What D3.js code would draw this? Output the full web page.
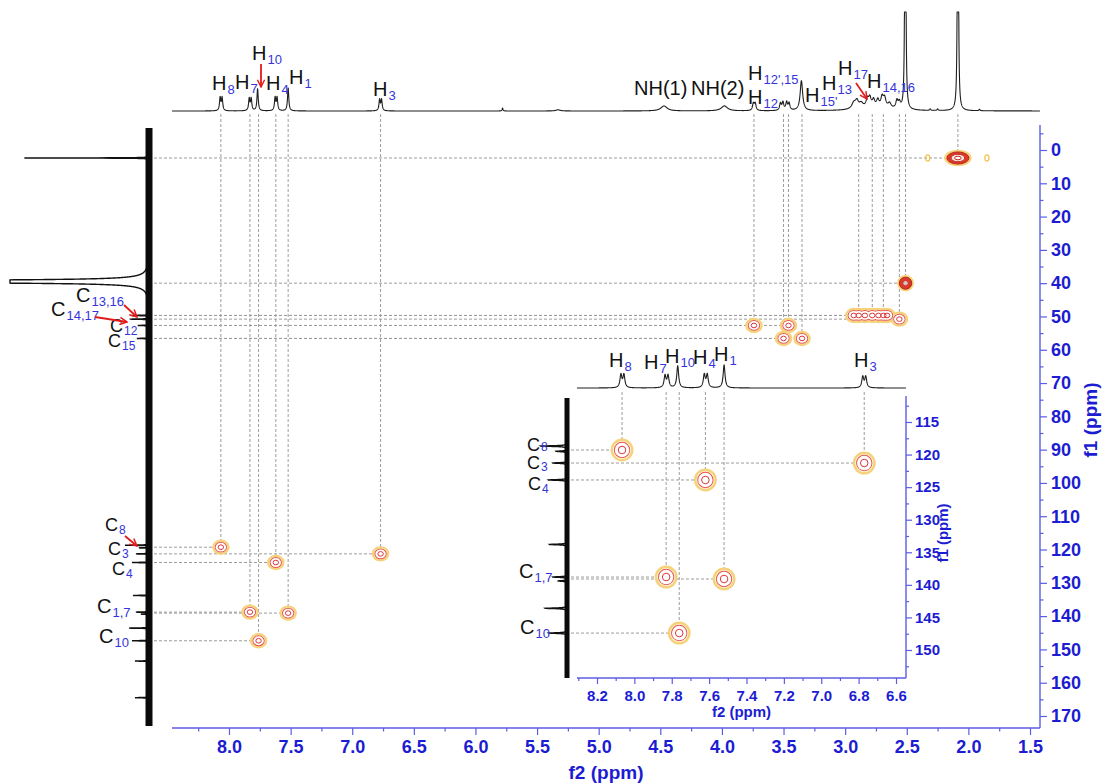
<!DOCTYPE html>
<html><head><meta charset="utf-8">
<script src="https://cdn.jsdelivr.net/npm/d3@7"></script>
<style>
body{margin:0;background:#fff}
svg{display:block;font-family:"Liberation Sans",Arial,sans-serif}
</style>
</head><body>
<svg id="c" width="1107" height="783"></svg>
<script>
// ---------------- data ----------------
// 1H projection: [shift ppm, intensity, half-width ppm]
const protonPeaks = [
  [8.072,13,0.006],[8.056,13,0.006],
  [7.836,12,0.006],[7.820,12,0.006],
  [7.768,22,0.006],
  [7.626,13,0.006],[7.610,13,0.006],
  [7.520,23,0.006],
  [6.778,11,0.006],[6.762,11,0.006],
  [5.78,3,0.004],[5.33,1.2,0.02],
  [4.47,5,0.03],[3.98,5,0.03],
  [3.745,7,0.008],[3.730,7,0.008],
  [3.525,7,0.008],[3.505,8,0.008],[3.475,8,0.008],[3.455,7,0.008],
  [3.355,30,0.012],
  [2.75,3,0.15],
  [2.93,6,0.02],[2.905,7,0.015],[2.87,5,0.02],[2.82,8,0.012],[2.80,9,0.012],
  [2.77,7,0.012],[2.735,7,0.012],[2.70,10,0.012],[2.68,9,0.012],[2.64,5,0.015],
  [2.58,8,0.01],[2.56,6,0.01],
  [2.512,900,0.0025],
  [2.31,1.5,0.005],[2.25,1.5,0.005],
  [2.085,900,0.0025],
  [1.91,1.5,0.005]
];

// 13C projection: [shift ppm, intensity, half-width ppm]
const carbonPeaks = [
  [2.4,125,0.04],
  [39.5,1000,0.2],
  [49.7,17,0.06],[50.8,19,0.06],[52.7,11,0.06],[56.6,12,0.06],
  [118.7,24,0.06],[119.5,10,0.06],[121.3,13,0.06],[123.9,17,0.06],
  [133.8,16,0.06],[138.8,13,0.06],[139.4,8,0.06],[143.6,20,0.06],
  [147.4,17,0.06],[153.5,14,0.06],[164.5,14,0.06]
];

// HSQC cross peaks, aromatic region: [1H ppm, 13C ppm]
const aromaticCross = [
  [8.066,119.3],[6.770,121.3],[7.620,123.9],
  [7.830,138.8],[7.520,139.1],[7.760,147.4]
];

// HSQC cross peaks, aliphatic region: [1H ppm, 13C ppm, level, guide]
// level: 0 weak, 1 normal, 2 strong, 3 very strong
const aliphaticCross = [
  [3.74,52.7,1,1],[3.46,52.7,1,1],[3.50,56.6,1,1],[3.35,56.6,1,1],
  [2.93,49.7,1,0],[2.89,49.7,1,1],[2.84,49.7,1,0],[2.78,49.7,1,1],
  [2.73,49.7,1,0],[2.69,49.7,1,1],[2.66,49.7,1,0],
  [2.56,50.8,1,1],
  [2.51,40.0,2,1],
  [2.085,2.4,3,1],
  [2.33,2.4,0,0],[1.85,2.4,0,0]
];

// axis ticks
const f2MainTicks = [8.0,7.5,7.0,6.5,6.0,5.5,5.0,4.5,4.0,3.5,3.0,2.5,2.0,1.5];
const f2MainMinor = [8.25,7.75,7.25,6.75,6.25,5.75,5.25,4.75,4.25,3.75,3.25,2.75,2.25,1.75];
const f1MainTicks = [0,10,20,30,40,50,60,70,80,90,100,110,120,130,140,150,160,170];
const f1MainMinor = [-5,5,15,25,35,45,55,65,75,85,95,105,115,125,135,145,155,165];
const f2InsetTicks = [8.2,8.0,7.8,7.6,7.4,7.2,7.0,6.8,6.6];
const f2InsetMinor = [8.3,8.1,7.9,7.7,7.5,7.3,7.1,6.9,6.7];
const f1InsetTicks = [115,120,125,130,135,140,145,150];
const f1InsetMinor = [112.5,117.5,122.5,127.5,132.5,137.5,142.5,147.5,152.5];

// ---------------- drawing ----------------
const svg = d3.select("#c");
const AX_TXT = "#1c1cd2", AX_LINE = "#5c5ce4", SUB = "#3434dc";
const GUIDE = "#9c9c9c";

function lorentz(peaks, v){
  let s = 0;
  for (const [p,h,w] of peaks){ const d = (v-p)/w; s += h/(1+d*d); }
  return s;
}

const defs = svg.append("defs");
defs.append("marker").attr("id","arr").attr("viewBox","0 0 10 10")
  .attr("refX",9).attr("refY",5).attr("markerWidth",9).attr("markerHeight",9)
  .attr("markerUnits","userSpaceOnUse").attr("orient","auto")
  .append("path").attr("d","M1,1 L9,5 L1,9").attr("fill","none")
  .attr("stroke","#e21a1a").attr("stroke-width",1.6);

function arrow(g, x1,y1,x2,y2){
  g.append("line").attr("x1",x1).attr("y1",y1).attr("x2",x2).attr("y2",y2)
    .attr("stroke","#e21a1a").attr("stroke-width",1.8).attr("marker-end","url(#arr)");
}

function tag(g, x, yb, main, sub, size=20, subSize=13, subDy=4){
  const t = g.append("text").attr("x",x).attr("y",yb).attr("font-size",size).attr("fill","#111");
  t.append("tspan").text(main);
  if (sub) t.append("tspan").attr("font-size",subSize).attr("fill",SUB)
      .attr("dy",subDy).attr("dx",1).text(sub);
}

// one panel: axes, projections, guides and cross peaks
function panel(cfg){
  const g = svg.append("g");
  const {x, y} = cfg;

  // ---- axes ----
  g.append("line").attr("x1",cfg.L).attr("x2",cfg.R).attr("y1",cfg.B).attr("y2",cfg.B)
    .attr("stroke",AX_LINE).attr("stroke-width",1.4);
  g.append("line").attr("x1",cfg.R).attr("x2",cfg.R).attr("y1",cfg.T).attr("y2",cfg.B)
    .attr("stroke",AX_LINE).attr("stroke-width",1.4);

  const xa = g.append("g").attr("transform",`translate(0,${cfg.B})`)
    .call(d3.axisBottom(x).tickValues(cfg.xTicks).tickSize(cfg.tick).tickPadding(cfg.xPad)
      .tickFormat(d3.format(".1f")));
  const xm = g.append("g").attr("transform",`translate(0,${cfg.B})`)
    .call(d3.axisBottom(x).tickValues(cfg.xMinor.filter(v=>x(v)>=cfg.L && x(v)<=cfg.R))
      .tickSize(cfg.tick/2).tickFormat(""));
  const ya = g.append("g").attr("transform",`translate(${cfg.R},0)`)
    .call(d3.axisRight(y).tickValues(cfg.yTicks).tickSize(cfg.tick).tickPadding(cfg.yPad));
  const ym = g.append("g").attr("transform",`translate(${cfg.R},0)`)
    .call(d3.axisRight(y).tickValues(cfg.yMinor.filter(v=>y(v)>=cfg.T && y(v)<=cfg.B))
      .tickSize(cfg.tick/2).tickFormat(""));
  [xa,xm,ya,ym].forEach(a=>{
    a.select(".domain").remove();
    a.selectAll("line").attr("stroke",AX_LINE).attr("stroke-width",1.2);
    a.selectAll("text").attr("fill",AX_TXT).attr("font-weight","bold")
      .attr("font-size",cfg.font).attr("font-family","Liberation Sans, Arial, sans-serif");
  });
  g.append("text").attr("x",(cfg.L+cfg.R)/2).attr("y",cfg.xTitleY).attr("text-anchor","middle")
    .attr("fill",AX_TXT).attr("font-weight","bold").attr("font-size",cfg.titleFont).text("f2 (ppm)");
  g.append("text").attr("transform",`translate(${cfg.yTitleX},${cfg.yTitleY}) rotate(-90)`)
    .attr("text-anchor","middle").attr("fill",AX_TXT).attr("font-weight","bold")
    .attr("font-size",cfg.titleFont).text("f1 (ppm)");

  // ---- guide lines ----
  const gl = g.append("g").attr("stroke",GUIDE).attr("stroke-width",1).attr("stroke-dasharray","3,2");
  cfg.cross.filter(d=>d.guide).forEach(d=>{
    gl.append("line").attr("x1",x(d.h)).attr("x2",x(d.h)).attr("y1",cfg.guideTop).attr("y2",y(d.c));
    gl.append("line").attr("x1",cfg.guideLeft).attr("x2",x(d.h)).attr("y1",y(d.c)).attr("y2",y(d.c));
  });

  // ---- 1H projection ----
  const topI = d3.scaleLinear().domain([0,100]).range([cfg.topBase, cfg.topBase-cfg.topGain]);
  const hp = d3.range(x.invert(cfg.L), x.invert(cfg.R), -0.001)
    .map(p=>[x(p), Math.max(cfg.clipTop, topI(lorentz(cfg.protons,p)))]);
  g.append("path").attr("d",d3.line()(hp)).attr("fill","none")
    .attr("stroke","#1e1e1e").attr("stroke-width",1.1).attr("stroke-linejoin","round");

  // ---- 13C projection ----
  const sideI = d3.scaleLinear().domain([0,100]).range([cfg.sideBase, cfg.sideBase-cfg.sideGain]);
  const cp = d3.range(y.invert(cfg.bandTop), y.invert(cfg.bandBot), 0.01)
    .map(c=>[Math.max(cfg.clipLeft, sideI(lorentz(cfg.carbons,c))), y(c)]);
  g.append("path").attr("d",d3.line()(cp)).attr("fill","none")
    .attr("stroke","#111").attr("stroke-width",1.4);
  g.append("rect").attr("x",cfg.sideBase-cfg.band/2).attr("width",cfg.band)
    .attr("y",cfg.bandTop).attr("height",cfg.bandBot-cfg.bandTop).attr("fill","#0a0a0a");

  // ---- cross peaks (contours) ----
  const pk = g.append("g");
  const scale = d => d.level===3 ? [1.7,1.1] : d.level===0 ? [0.32,0.55] : d.level===2 ? [0.95,1.1] : [1,1];
  const E = (sel, f) => pk.selectAll(null).data(sel).join("ellipse")
    .attr("cx",d=>x(d.h)).attr("cy",d=>y(d.c))
    .attr("rx",d=>cfg.rx*scale(d)[0]*f).attr("ry",d=>cfg.ry*scale(d)[1]*f);
  const all = cfg.cross;
  const weak = all.filter(d=>d.level===0);
  const norm = all.filter(d=>d.level===1);
  const strong = all.filter(d=>d.level>=2);
  E(weak,1).attr("fill","none").attr("stroke","#f1c24a").attr("stroke-width",1.2);
  E(norm.concat(strong),1.08).attr("fill","none").attr("stroke","#f6d27a").attr("stroke-width",3.5);
  E(norm,1).attr("fill","#fffaf0");
  E(norm,0.8).attr("fill","none").attr("stroke","#e4584c").attr("stroke-width",2);
  E(norm,0.8).attr("fill","#fff");
  E(norm,0.42).attr("fill","none").attr("stroke","#d8363a").attr("stroke-width",1);
  E(strong,1).attr("fill","#d93a2a").attr("stroke","#b5241c").attr("stroke-width",1);
  E(strong.filter(d=>d.level===3),0.62).attr("fill","#fbe9e4").attr("stroke","#c8281e").attr("stroke-width",1);
  E(strong.filter(d=>d.level===3),0.3).attr("fill","#fff").attr("stroke","#c8281e").attr("stroke-width",1);
  E(strong.filter(d=>d.level===2),0.35).attr("fill","#cfc6c6");
  return g;
}

const aroList = aromaticCross.map(([h,c])=>({h,c,level:1,guide:1}));
const aliList = aliphaticCross.map(([h,c,level,guide])=>({h,c,level,guide}));

// ---------------- main spectrum ----------------
const xMain = d3.scaleLinear().domain([8.0,1.5]).range([229,1030]);
const yMain = d3.scaleLinear().domain([0,170]).range([150,716]);
panel({
  x:xMain, y:yMain, L:172, R:1040, T:125, B:728,
  xTicks:f2MainTicks, xMinor:f2MainMinor, yTicks:f1MainTicks, yMinor:f1MainMinor,
  tick:7, xPad:5, yPad:4, font:18, titleFont:19,
  xTitleY:779, yTitleX:1097, yTitleY:420,
  cross:aroList.concat(aliList), guideTop:114, guideLeft:154,
  protons:protonPeaks, carbons:carbonPeaks,
  topBase:111, topGain:100, clipTop:12,
  sideBase:149, sideGain:100, clipLeft:10, band:7, bandTop:128, bandBot:726,
  rx:6.5, ry:5.5
});

// ---------------- aromatic inset ----------------
const xIn = d3.scaleLinear().domain([8.2,6.6]).range([597,896]);
const yIn = d3.scaleLinear().domain([115,150]).range([422,650]);
panel({
  x:xIn, y:yIn, L:577, R:906, T:396, B:678,
  xTicks:f2InsetTicks, xMinor:f2InsetMinor, yTicks:f1InsetTicks, yMinor:f1InsetMinor,
  tick:6, xPad:6, yPad:3, font:15, titleFont:15,
  xTitleY:717, yTitleX:948, yTitleY:533,
  cross:aroList, guideTop:392, guideLeft:571,
  protons:protonPeaks.filter(p=>p[0]>6.5), carbons:carbonPeaks.filter(p=>p[0]>100 && p[0]<150),
  topBase:388, topGain:100, clipTop:300,
  sideBase:567, sideGain:110, clipLeft:500, band:5, bandTop:398, bandBot:678,
  rx:9, ry:9
});

// ---------------- assignments ----------------
const ann = svg.append("g");
// main 1H labels
tag(ann,212,90,"H","8"); tag(ann,235,89,"H","7"); tag(ann,252,60,"H","10");
tag(ann,266,90,"H","4"); tag(ann,289,84,"H","1"); tag(ann,373,96,"H","3");
tag(ann,634,95,"NH(1)"); tag(ann,691,95,"NH(2)");
tag(ann,748,80,"H","12',15"); tag(ann,748,104,"H","12");
tag(ann,805,102,"H","15'"); tag(ann,822,90,"H","13");
tag(ann,838,75,"H","17"); tag(ann,867,88,"H","14,16");
arrow(ann,261,64,261,87); arrow(ann,856,83,867,99);
// main 13C labels (stacked ones slightly smaller)
tag(ann,76,302,"C","13,16"); tag(ann,51,316,"C","14,17");
tag(ann,110,332,"C","12",18,12,3); tag(ann,108,347,"C","15",18,12,3);
tag(ann,105,531,"C","8",18,12,3); tag(ann,108,555,"C","3",18,12,3); tag(ann,112,575,"C","4",18,12,3);
tag(ann,97,613,"C","1,7"); tag(ann,99,643,"C","10");
arrow(ann,124,305,137,317); arrow(ann,95,317,127,322); arrow(ann,125,536,137,546);
// inset labels
tag(ann,609,367,"H","8"); tag(ann,644,369,"H","7"); tag(ann,665,363,"H","10");
tag(ann,693,364,"H","4"); tag(ann,714,361,"H","1"); tag(ann,854,367,"H","3");
tag(ann,527,451,"C","8",18,12,0); tag(ann,527,469,"C","3",18,12,2); tag(ann,528,490,"C","4",18,12,3);
tag(ann,519,578,"C","1,7"); tag(ann,520,634,"C","10");
</script>
</body></html>
